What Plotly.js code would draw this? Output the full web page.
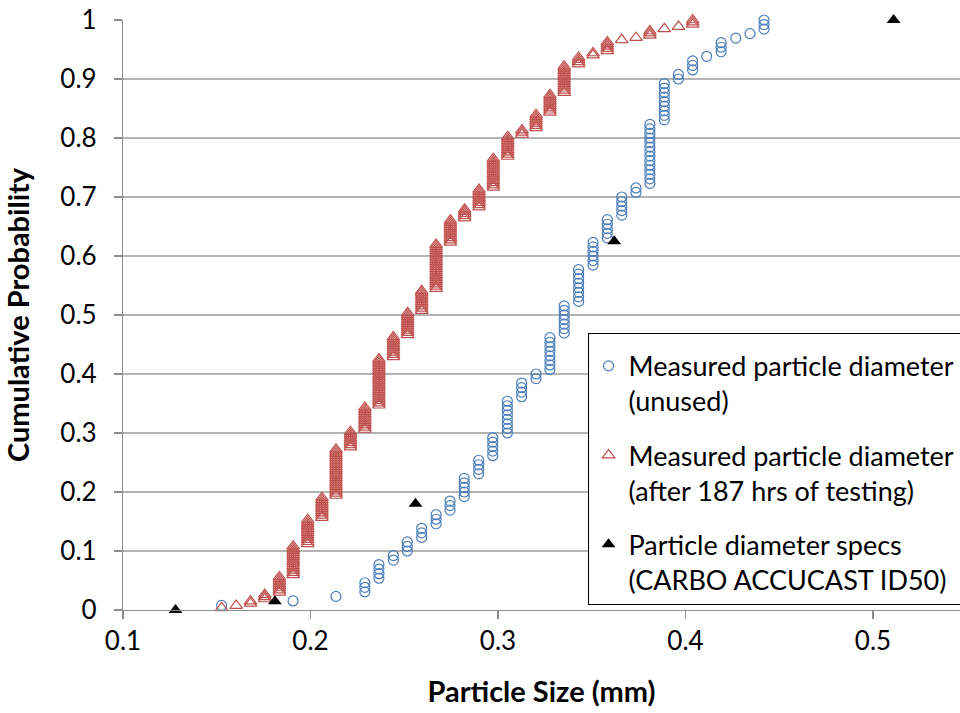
<!DOCTYPE html>
<html>
<head>
<meta charset="utf-8">
<script src="https://cdn.plot.ly/plotly-3.0.1.min.js"></script>
<style>
html, body { margin: 0; padding: 0; background: #ffffff; }
#chart { width: 960px; height: 713px; }
</style>
</head>
<body>
<div id="chart"></div>
<script>
// Measured particle diameters (mm) and number of particles read at each size (stack height)
const unusedSizes  = [0.1526, 0.1907, 0.2136, 0.229, 0.2365, 0.2442, 0.2516, 0.2593, 0.267, 0.2744,
                      0.282, 0.2897, 0.2972, 0.305, 0.3126, 0.3203, 0.3277, 0.3353, 0.343, 0.3507,
                      0.3583, 0.366, 0.3736, 0.381, 0.3887, 0.3962, 0.4038, 0.4113, 0.419, 0.4268,
                      0.4344, 0.4419];
const unusedCounts = [1, 1, 1, 3, 4, 2, 3, 3, 3, 3,
                      5, 4, 5, 8, 4, 2, 8, 7, 8, 6,
                      5, 5, 2, 14, 9, 2, 3, 1, 3, 1,
                      1, 3];

const testedSizes  = [0.1526, 0.1604, 0.168, 0.1756, 0.1834, 0.1908, 0.1985, 0.2061, 0.2136, 0.2213,
                      0.229, 0.2365, 0.2442, 0.2518, 0.2593, 0.267, 0.2746, 0.2822, 0.2899, 0.2975,
                      0.3052, 0.3128, 0.3203, 0.3277, 0.3353, 0.343, 0.3507, 0.3583, 0.366, 0.3736,
                      0.381, 0.3887, 0.3963, 0.4038];
const testedCounts = [1, 1, 2, 3, 8, 14, 12, 10, 22, 8,
                      11, 22, 10, 11, 10, 21, 11, 5, 9, 14,
                      10, 3, 7, 9, 13, 4, 2, 5, 1, 1,
                      3, 1, 1, 3];

// Particle diameter specs (CARBO ACCUCAST ID50)
const specSizes = [0.128, 0.181, 0.256, 0.362, 0.511];
const specProb  = [0, 0.015, 0.18, 0.625, 1.0];

const xTickVals   = [0.1, 0.2, 0.3, 0.4, 0.5];
const xTickLabels = ['0.1', '0.2', '0.3', '0.4', '0.5'];
const yTickVals   = [0, 0.1, 0.2, 0.3, 0.4, 0.5, 0.6, 0.7, 0.8, 0.9, 1];
const yTickLabels = ['0', '0.1', '0.2', '0.3', '0.4', '0.5', '0.6', '0.7', '0.8', '0.9', '1'];

// Empirical cumulative distribution of the measured sizes
function empiricalCdf(sizes, counts) {
  const total = counts.reduce((a, b) => a + b, 0);
  const xs = [], ys = [];
  let rank = 0;
  sizes.forEach((s, k) => {
    for (let j = 0; j < counts[k]; j++) {
      rank += 1;
      xs.push(s);
      ys.push(rank / total);
    }
  });
  return { x: xs, y: ys };
}

const unused = empiricalCdf(unusedSizes, unusedCounts);
const tested = empiricalCdf(testedSizes, testedCounts);

const FONT = 'Lato, Calibri, Carlito, "Open Sans", sans-serif';
const GRID = '#b4b4b4';
const AXIS = '#8c8c8c';

const traces = [
  {
    type: 'scatter', mode: 'markers',
    name: 'Measured particle diameter<br>(unused)',
    legendgroup: 'a',
    x: unused.x, y: unused.y,
    cliponaxis: false,
    marker: { symbol: 'circle-open', size: 10, color: '#4a7ebb', line: { width: 1.2, color: '#4a7ebb' } }
  },
  {
    type: 'scatter', mode: 'markers',
    name: 'Measured particle diameter<br>(after 187 hrs of testing)',
    legendgroup: 'b',
    x: tested.x, y: tested.y,
    cliponaxis: false,
    marker: { symbol: 'triangle-up-open', size: 11, color: '#c0504d', line: { width: 1.2, color: '#c0504d' } }
  },
  {
    type: 'scatter', mode: 'markers',
    name: 'Particle diameter specs<br>(CARBO ACCUCAST ID50)',
    legendgroup: 'c',
    x: specSizes, y: specProb,
    cliponaxis: false,
    marker: { symbol: 'triangle-up', size: 12, color: '#000000' }
  }
];

const layout = {
  width: 960, height: 713,
  margin: { l: 123, r: 0, t: 20, b: 103, autoexpand: false },
  paper_bgcolor: '#ffffff', plot_bgcolor: '#ffffff',
  font: { family: FONT, color: '#000000' },
  showlegend: true,
  xaxis: {
    range: [0.1, 0.5464],
    tickvals: xTickVals, ticktext: xTickLabels,
    showgrid: false, zeroline: false,
    showline: true, linecolor: AXIS, linewidth: 1.2,
    ticks: 'outside', ticklen: 8, tickcolor: AXIS, tickwidth: 1.2,
    tickfont: { family: FONT, size: 26, color: '#000000' },
    title: { text: '<b>Particle Size (mm)</b>', font: { family: FONT, size: 29, color: '#000000' }, standoff: 26 }
  },
  yaxis: {
    range: [0, 1],
    tickvals: yTickVals, ticktext: yTickLabels,
    showgrid: true, gridcolor: GRID, gridwidth: 1.3,
    zeroline: false,
    showline: true, linecolor: AXIS, linewidth: 1.2,
    ticks: 'outside', ticklen: 8, tickcolor: AXIS, tickwidth: 1.2,
    ticklabelstandoff: 12,
    tickfont: { family: FONT, size: 26, color: '#000000' },
    title: { text: '<b>Cumulative Probability</b>', font: { family: FONT, size: 29, color: '#000000' }, standoff: 22 }
  },
  legend: {
    x: 0.555, xanchor: 'left', y: 0.4695, yanchor: 'top',
    bgcolor: '#ffffff', bordercolor: '#000000', borderwidth: 1,
    font: { family: FONT, size: 27, color: '#000000' },
    title: { text: ' ', font: { size: 6 } },
    valign: 'top', tracegroupgap: 16
  }
};

Plotly.newPlot('chart', traces, layout, { displayModeBar: false, staticPlot: true });
</script>
</body>
</html>
